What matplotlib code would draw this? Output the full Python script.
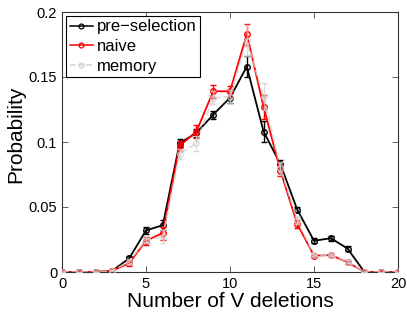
import matplotlib
matplotlib.use("Agg")
import matplotlib.pyplot as plt
from matplotlib.lines import Line2D

plt.rcParams['font.family'] = ['Liberation Sans', 'DejaVu Sans']

deletions = list(range(0, 21))
pre_selection = [0, 0, 0, 0.001, 0.0105, 0.032, 0.036, 0.099, 0.107, 0.121, 0.134, 0.158,
                 0.108, 0.083, 0.048, 0.024, 0.026, 0.018, 0, 0, 0]
pre_err = [0, 0, 0, 0.0005, 0.002, 0.003, 0.004, 0.003, 0.003, 0.003, 0.004, 0.008,
           0.008, 0.003, 0.002, 0.002, 0.002, 0.002, 0, 0, 0]
naive = [0, 0, 0, 0.001, 0.0068, 0.024, 0.030, 0.097, 0.108, 0.139, 0.139, 0.183,
         0.127, 0.078, 0.037, 0.0126, 0.013, 0.0075, 0, 0, 0]
naive_err = [0, 0, 0, 0.0005, 0.002, 0.003, 0.005, 0.004, 0.005, 0.005, 0.004, 0.008,
             0.009, 0.004, 0.003, 0.001, 0.001, 0.001, 0, 0, 0]
memory = [0, 0, 0, 0.001, 0.008, 0.025, 0.027, 0.091, 0.099, 0.134, 0.135, 0.178,
          0.135, 0.080, 0.040, 0.013, 0.013, 0.008, 0, 0, 0]
memory_err = [0, 0, 0, 0.0005, 0.002, 0.003, 0.005, 0.004, 0.006, 0.005, 0.005, 0.012,
              0.010, 0.005, 0.003, 0.001, 0.001, 0.001, 0, 0, 0]
labels = ['pre\u2212selection', 'naive', 'memory']

mem_color = (0.82, 0.82, 0.82)

fig = plt.figure(figsize=(4.07, 3.15), dpi=100)
ax = fig.add_axes([62/407, 43/315, 336/407, 260/315])

ax.errorbar(deletions, pre_selection, yerr=pre_err, color='black', lw=1.3,
            marker='o', ms=4, mfc='none', mew=1.0, capsize=2.5, elinewidth=1.0, zorder=3)
ax.errorbar(deletions, naive, yerr=naive_err, color='red', lw=1.3,
            marker='o', ms=4, mfc='none', mew=1.0, capsize=2.5, elinewidth=1.0, zorder=4)
ax.errorbar(deletions, memory, yerr=memory_err, color=mem_color, lw=1.3,
            ls='--', marker='o', ms=4, mfc='none', mew=1.0, capsize=2.5, elinewidth=1.0,
            alpha=0.75, zorder=5)

ax.set_xlim(0, 20)
ax.set_ylim(0, 0.2)
ax.set_xticks([0, 5, 10, 15, 20])
ax.set_yticks([0, 0.05, 0.1, 0.15, 0.2])
ax.set_yticklabels(['0', '0.05', '0.1', '0.15', '0.2'])
ax.tick_params(direction='in', top=True, right=True, labelsize=10.5, length=4, width=0.6,
               color='#444444')
for s in ax.spines.values():
    s.set_linewidth(0.8)
    s.set_color('#333333')
ax.set_xlabel('Number of V deletions', fontsize=15, labelpad=1)
ax.set_ylabel('Probability', fontsize=15, labelpad=2)
ax.yaxis.set_label_coords(-0.11, 0.53)

handles = [
    Line2D([], [], color='black', lw=1.1, marker='o', ms=3.5, mfc='none', mew=0.9),
    Line2D([], [], color='red', lw=1.1, marker='o', ms=3.5, mfc='none', mew=0.9),
    Line2D([], [], color=mem_color, lw=1.1, ls='--', marker='o', ms=3.5, mfc='none', mew=0.9),
]
leg = ax.legend(handles, labels, loc='upper left', fontsize=12, frameon=True, fancybox=False,
                edgecolor='black', framealpha=1, handlelength=1.4, handletextpad=0.25,
                borderpad=0.2, labelspacing=0.28, borderaxespad=0.25)
leg.get_frame().set_linewidth(0.8)

fig.savefig('out.png', dpi=100)
